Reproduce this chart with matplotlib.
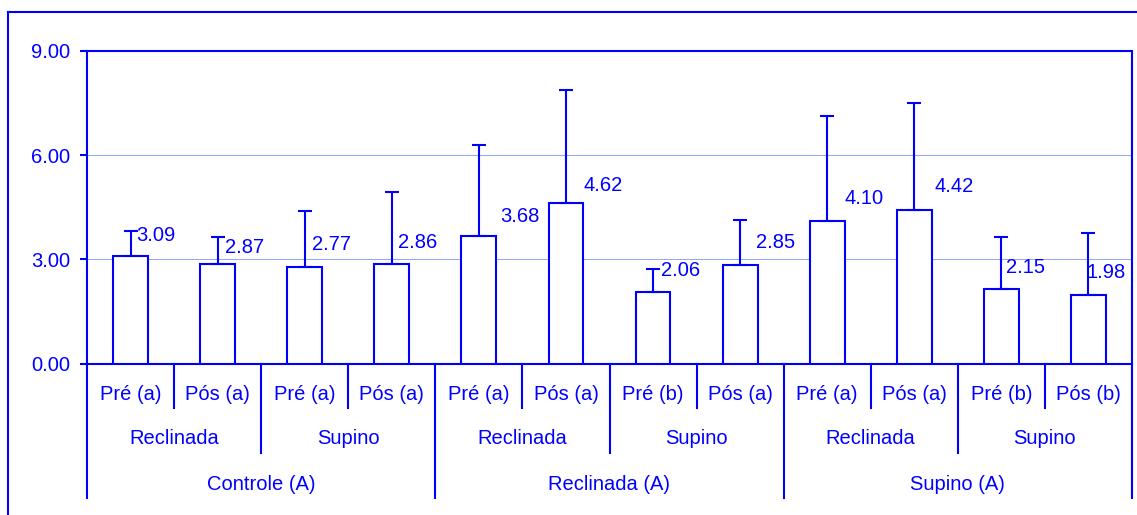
import numpy as np
import matplotlib.pyplot as plt
from matplotlib.lines import Line2D
from matplotlib.transforms import blended_transform_factory

plt.rcParams["font.family"] = ["Liberation Sans", "DejaVu Sans"]

# dados
level1 = ["Pré (a)", "Pós (a)", "Pré (a)", "Pós (a)", "Pré (a)", "Pós (a)",
          "Pré (b)", "Pós (a)", "Pré (a)", "Pós (a)", "Pré (b)", "Pós (b)"]
level2 = ["Reclinada", "Supino", "Reclinada", "Supino", "Reclinada", "Supino"]
level3 = ["Controle (A)", "Reclinada (A)", "Supino (A)"]
means = [3.09, 2.87, 2.77, 2.86, 3.68, 4.62, 2.06, 2.85, 4.10, 4.42, 2.15, 1.98]
errors = [0.73, 0.77, 1.62, 2.08, 2.61, 3.26, 0.66, 1.28, 3.03, 3.08, 1.49, 1.78]
yticks = [0, 3, 6, 9]

# deslocamento dos rótulos (pixels)
label_dx = [25, 27, 27, 26, 41, 37, 28, 35, 37, 40, 24, 18]
label_dy = [21, 16, 23, 22, 19, 18, 21, 22, 23, 24, 21, 22]

BLUE = "#0000FF"
FS = 14.5

fig = plt.figure(figsize=(11.37, 5.15), dpi=100, facecolor="white")
ax = fig.add_axes([87 / 1137, 1 - 363.5 / 515, (1132 - 87) / 1137, (363.5 - 51) / 515])

x = np.arange(len(means))
ax.bar(x, means, width=0.4, color="white", edgecolor=BLUE, linewidth=1.5, zorder=3)
ax.errorbar(x, means, yerr=[np.zeros(len(errors)), errors], fmt="none",
            ecolor=BLUE, elinewidth=1.5, capsize=4.7, capthick=1.5, zorder=4)

for i, v in enumerate(means):
    ax.annotate(f"{v:.2f}", xy=(i, v), xytext=(label_dx[i], label_dy[i]),
                textcoords="offset pixels", ha="center", va="center",
                color=BLUE, fontsize=FS, zorder=5)

ax.set_xlim(-0.5, len(means) - 0.5)
ax.set_ylim(0, 9)
ax.set_yticks(yticks)
ax.set_yticklabels([f"{t:.2f}" for t in yticks])
ax.tick_params(axis="y", direction="out", length=5, width=1.5, color=BLUE,
               labelcolor=BLUE, labelsize=FS, pad=7)
ax.set_xticks([])
for s in ax.spines.values():
    s.set_color(BLUE)
    s.set_linewidth(1.5)

ax.grid(True, axis="y", color="#8ea4ff", linestyle="-", linewidth=0.7)
ax.set_axisbelow(True)

# eixo x em vários níveis
tr = blended_transform_factory(ax.transData, fig.transFigure)
y0 = 1 - 363.5 / 515
ends = [1 - 408 / 515, 1 - 453 / 515, 1 - 498 / 515]
for b in range(len(means) + 1):
    if b % 4 == 0:
        yb = ends[2]
    elif b % 2 == 0:
        yb = ends[1]
    else:
        yb = ends[0]
    ax.add_line(Line2D([b - 0.5, b - 0.5], [y0, yb], transform=tr, color=BLUE,
                       linewidth=1.5, clip_on=False))

for i, lab in enumerate(level1):
    ax.text(i, 1 - 395 / 515, lab, transform=tr, ha="center", va="center",
            color=BLUE, fontsize=FS)
for i, lab in enumerate(level2):
    ax.text(2 * i + 0.5, 1 - 439 / 515, lab, transform=tr, ha="center", va="center",
            color=BLUE, fontsize=FS)
for i, lab in enumerate(level3):
    ax.text(4 * i + 1.5, 1 - 484 / 515, lab, transform=tr, ha="center", va="center",
            color=BLUE, fontsize=FS)

# moldura externa
fig.add_artist(Line2D([8 / 1137, 1.0], [1 - 12 / 515, 1 - 12 / 515],
                      transform=fig.transFigure, color=BLUE, linewidth=1.5))
fig.add_artist(Line2D([8 / 1137, 8 / 1137], [0, 1 - 12 / 515],
                      transform=fig.transFigure, color=BLUE, linewidth=1.5))

fig.savefig("out.png", dpi=100)
